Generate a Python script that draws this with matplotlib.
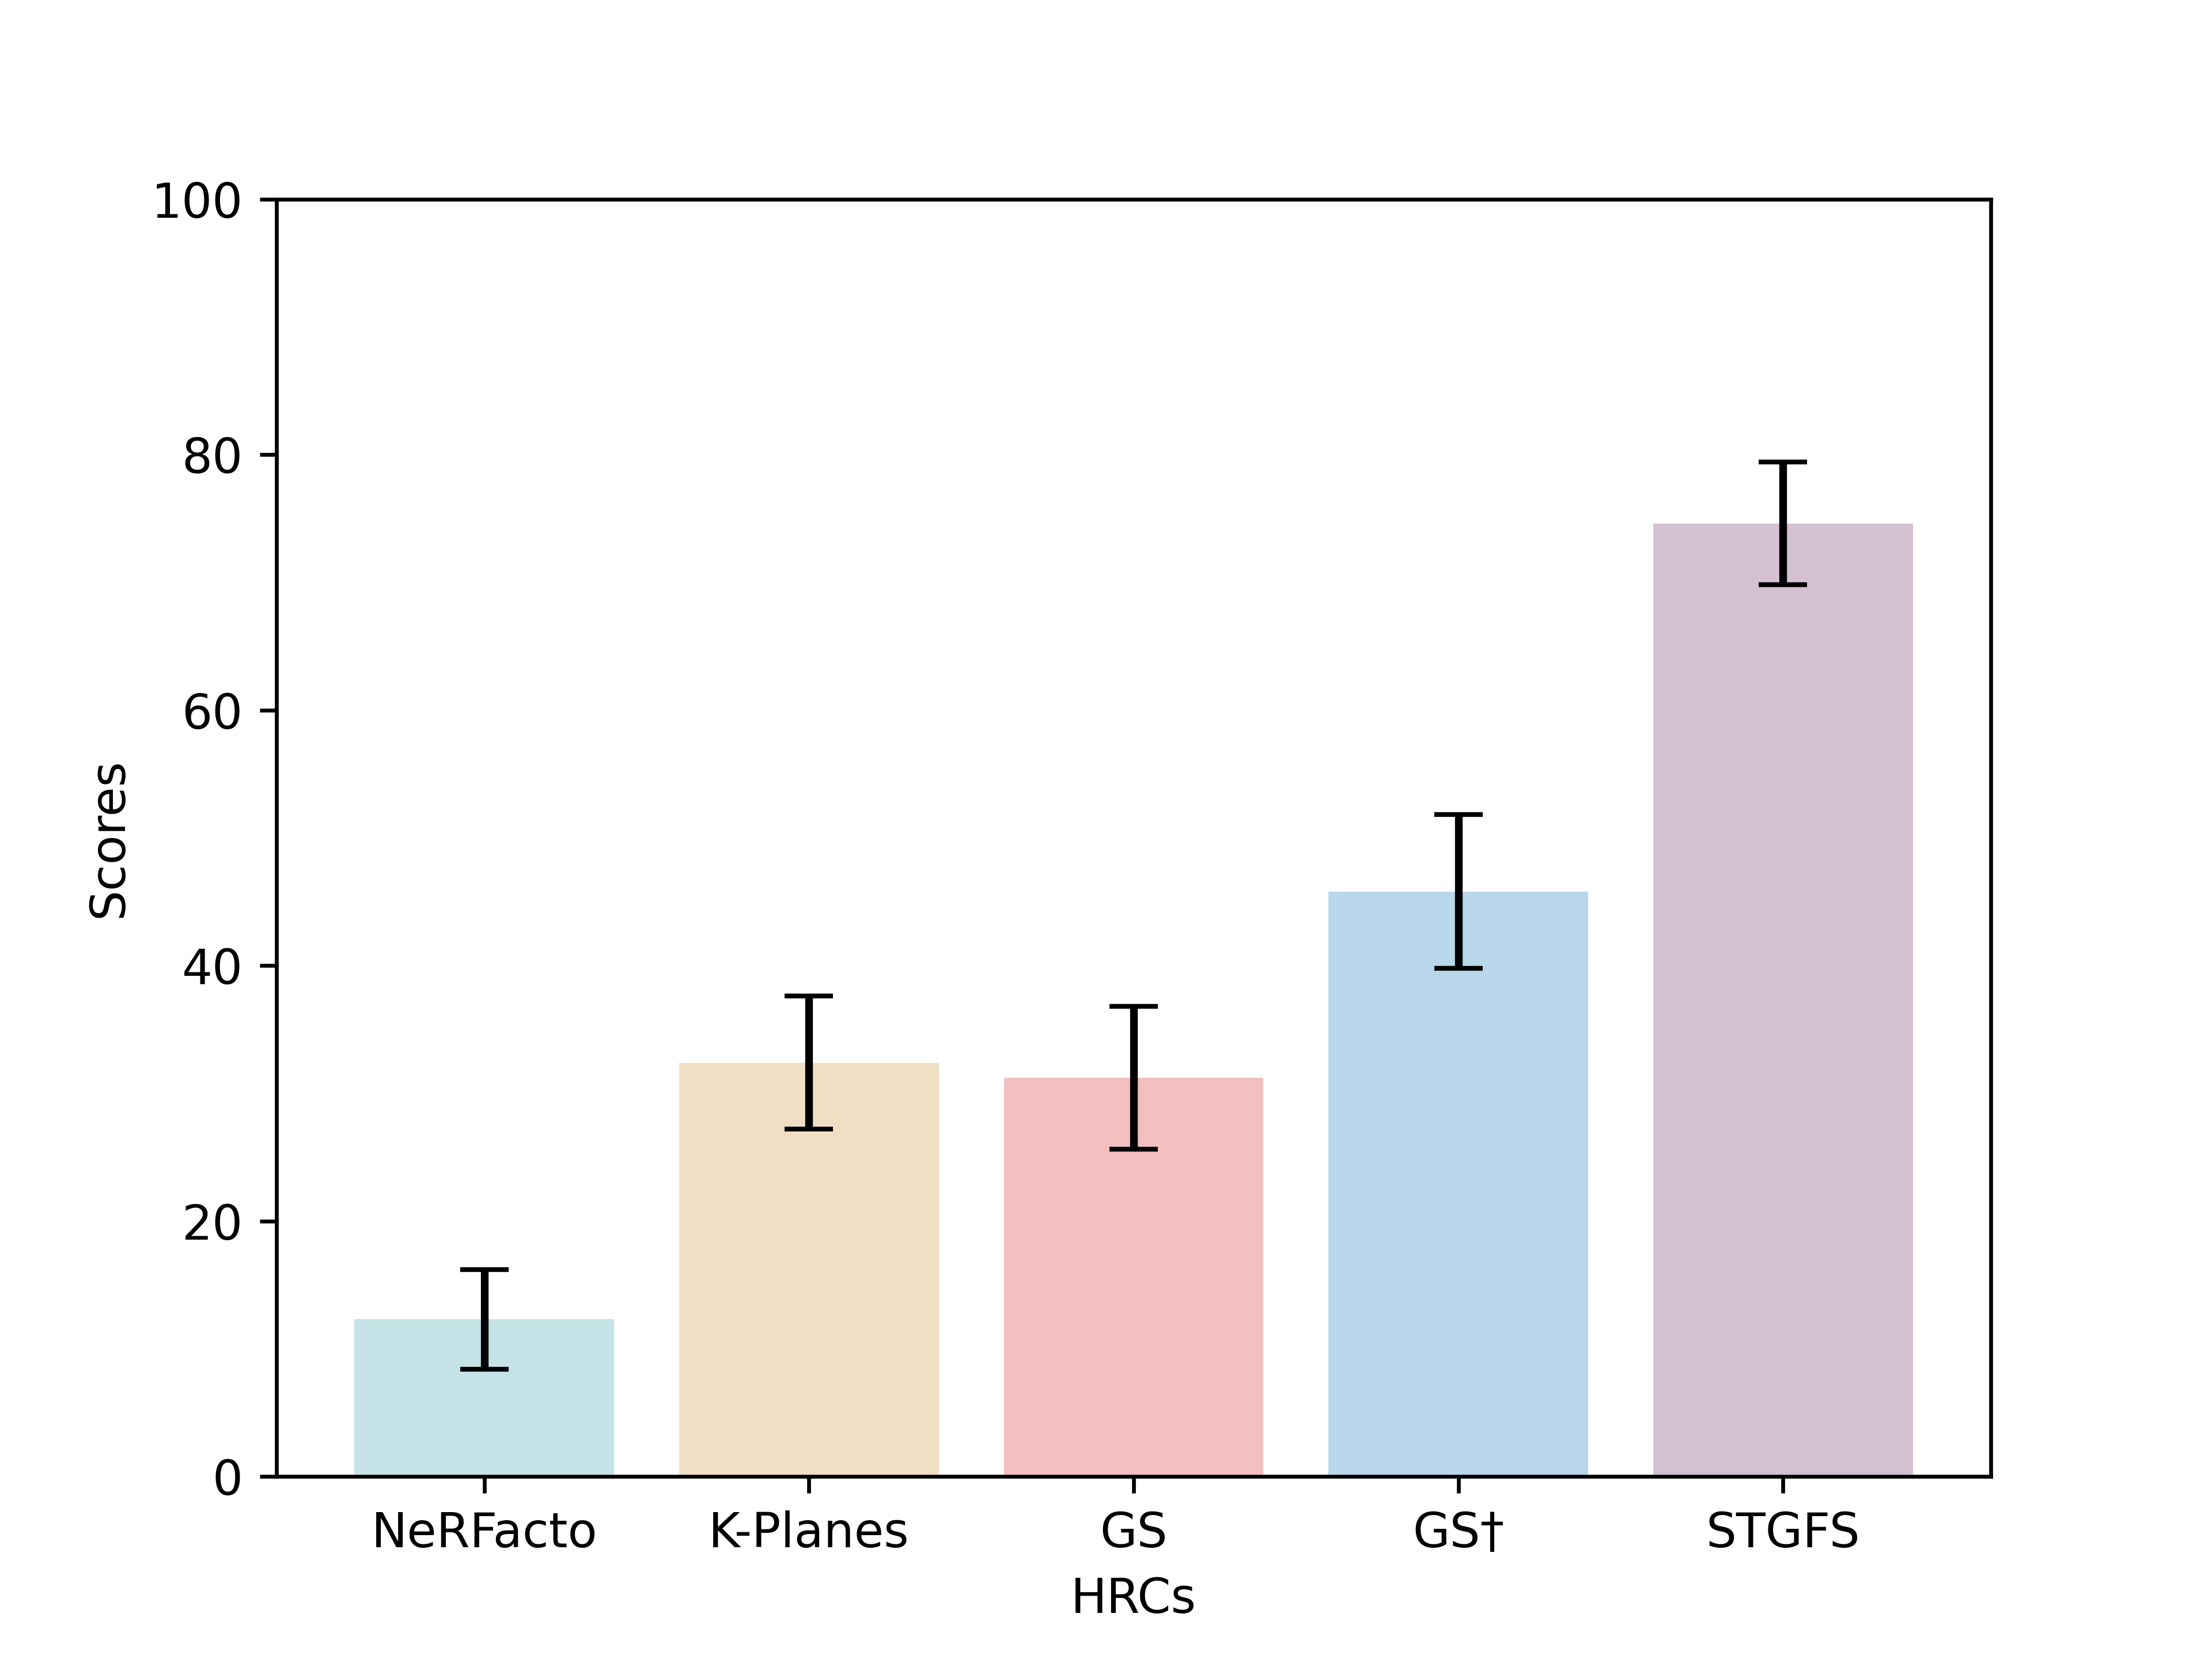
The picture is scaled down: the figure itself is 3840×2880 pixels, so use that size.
import matplotlib
matplotlib.use("Agg")
import matplotlib.pyplot as plt

categories = ["NeRFacto", "K-Planes", "GS", "GS\u2020", "STGFS"]
scores = [12.3, 32.4, 31.2, 45.8, 74.6]
errors = [3.9, 5.2, 5.6, 6.0, 4.8]
colors = ["#c5e2e7", "#f1dfc4", "#f3bfbf", "#b8d7ea", "#d4c1d2"]

fig, ax = plt.subplots(figsize=(6.4, 4.8), dpi=600)
ax.bar(categories, scores, yerr=errors, color=colors, capsize=5,
       error_kw=dict(elinewidth=1.6, capthick=1.0, ecolor="black"))
ax.set_ylim(0, 100)
ax.set_xlabel("HRCs")
ax.set_ylabel("Scores")
fig.savefig("out.png", dpi=600)
